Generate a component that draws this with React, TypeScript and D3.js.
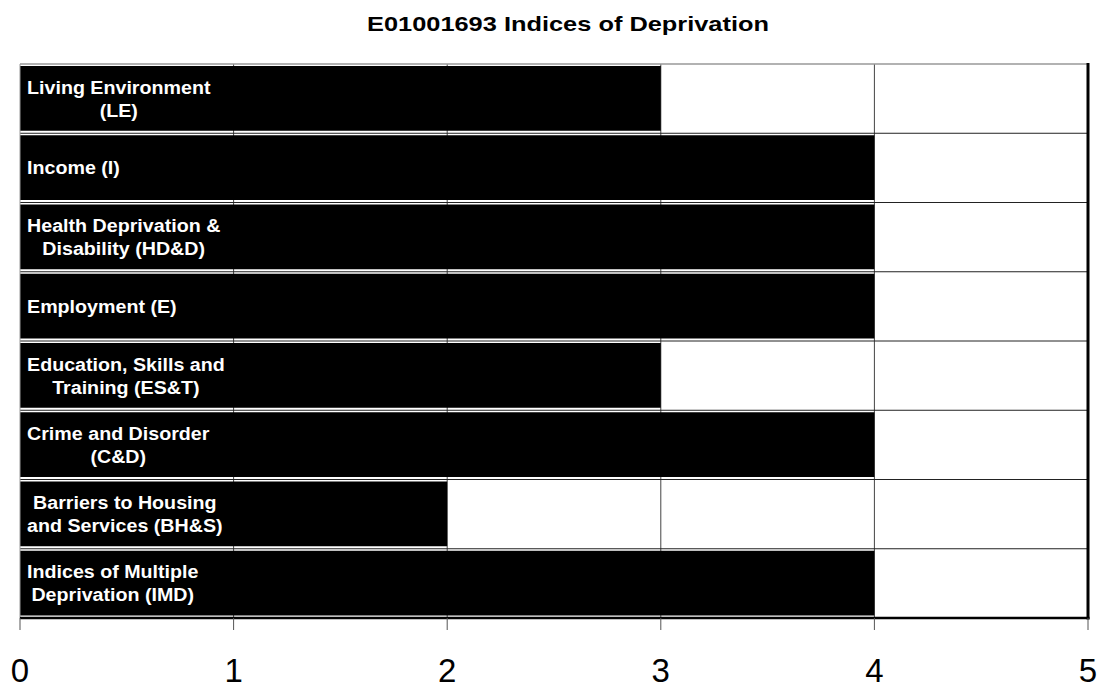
import React, { useMemo } from "react";
import * as d3 from "d3";

// Domains of deprivation, top to bottom, with their wrapped label lines
const domains: string[] = ["LE", "I", "HD&D", "E", "ES&T", "C&D", "BH&S", "IMD"];
const domainLabels: string[][] = [
  ["Living Environment", "(LE)"],
  ["Income (I)"],
  ["Health Deprivation &", "Disability (HD&D)"],
  ["Employment (E)"],
  ["Education, Skills and", "Training (ES&T)"],
  ["Crime and Disorder", "(C&D)"],
  ["Barriers to Housing", "and Services (BH&S)"],
  ["Indices of Multiple", "Deprivation (IMD)"],
];
// Decile-group score for each domain
const scores: number[] = [3, 4, 4, 4, 3, 4, 2, 4];
const tickValues: number[] = [0, 1, 2, 3, 4, 5];
const title = "E01001693 Indices of Deprivation";

const W = 1112;
const H = 690;
const plot = { left: 20, right: 1088, top: 64, bottom: 618 };
const FONT = "'Liberation Sans', Arial, sans-serif";
const LABEL_FONT = "bold 19px 'Liberation Sans', Arial, sans-serif";
const LABEL_SX = 1.035;

let ctx: CanvasRenderingContext2D | null = null;
function measure(text: string): number {
  if (!ctx) ctx = document.createElement("canvas").getContext("2d");
  if (!ctx) return text.length * 10;
  ctx.font = LABEL_FONT;
  return ctx.measureText(text).width;
}

export default function App() {
  const x = d3.scaleLinear().domain([0, 5]).range([plot.left, plot.right]);
  const y = d3.scaleBand<string>().domain(domains).range([plot.top, plot.bottom]).padding(0);
  const bw = y.bandwidth();

  const blockWidths = useMemo(
    () => domainLabels.map((lines) => d3.max(lines, (l) => measure(l)) ?? 0),
    []
  );

  return (
    <svg width={W} height={H} style={{ position: "absolute", left: 0, top: 0, background: "#fff" }}>
      <rect x={0} y={0} width={W} height={H} fill="#fff" />
      <text
        x={568}
        y={31}
        textAnchor="middle"
        fontFamily={FONT}
        fontWeight="bold"
        fontSize={21}
        textLength={402}
        lengthAdjust="spacingAndGlyphs"
        fill="#000"
      >
        {title}
      </text>

      {/* vertical gridlines */}
      {tickValues.slice(1, -1).map((t) => (
        <line key={"vg" + t} x1={x(t)} x2={x(t)} y1={plot.top} y2={plot.bottom} stroke="#444" strokeWidth={1} />
      ))}
      {/* row separators */}
      {domains.slice(1).map((d) => (
        <line
          key={"hg" + d}
          x1={plot.left}
          x2={plot.right}
          y1={y(d) ?? 0}
          y2={y(d) ?? 0}
          stroke="#222"
          strokeWidth={1}
        />
      ))}

      {/* bars */}
      {domains.map((d, i) => (
        <rect
          key={"bar" + d}
          x={x(0)}
          y={(y(d) ?? 0) + 2}
          width={x(scores[i]) - x(0)}
          height={bw - 4.5}
          fill="#000"
        />
      ))}

      {/* labels inside bars */}
      {domains.map((d, i) => {
        const lines = domainLabels[i];
        const cx = blockWidths[i] / 2;
        const mid = (y(d) ?? 0) + bw / 2;
        const lh = 23;
        const firstBase = mid + 6.5 - ((lines.length - 1) * lh) / 2;
        return (
          <text
            key={"lab" + d}
            transform={`translate(27,0) scale(${LABEL_SX},1)`}
            textAnchor="middle"
            fontFamily={FONT}
            fontWeight="bold"
            fontSize={19}
            fill="#fff"
          >
            {lines.map((l, j) => (
              <tspan key={j} x={cx} y={firstBase + j * lh}>
                {l}
              </tspan>
            ))}
          </text>
        );
      })}

      {/* plot frame */}
      <line x1={plot.left} x2={plot.right} y1={plot.top} y2={plot.top} stroke="#999" strokeWidth={1.5} />
      <line x1={plot.left} x2={plot.left} y1={plot.top} y2={plot.bottom} stroke="#999" strokeWidth={1} />
      <line x1={plot.right} x2={plot.right} y1={plot.top - 1} y2={plot.bottom + 1.5} stroke="#000" strokeWidth={3} />
      <line x1={plot.left} x2={plot.right + 1.5} y1={plot.bottom} y2={plot.bottom} stroke="#000" strokeWidth={2.5} />

      {/* x axis ticks and labels */}
      {tickValues.map((t) => (
        <g key={"t" + t}>
          <line x1={x(t)} x2={x(t)} y1={plot.bottom} y2={plot.bottom + 12} stroke="#555" strokeWidth={1} />
          <text x={x(t)} y={682} textAnchor="middle" fontFamily={FONT} fontSize={33} fill="#000">
            {t}
          </text>
        </g>
      ))}
    </svg>
  );
}
